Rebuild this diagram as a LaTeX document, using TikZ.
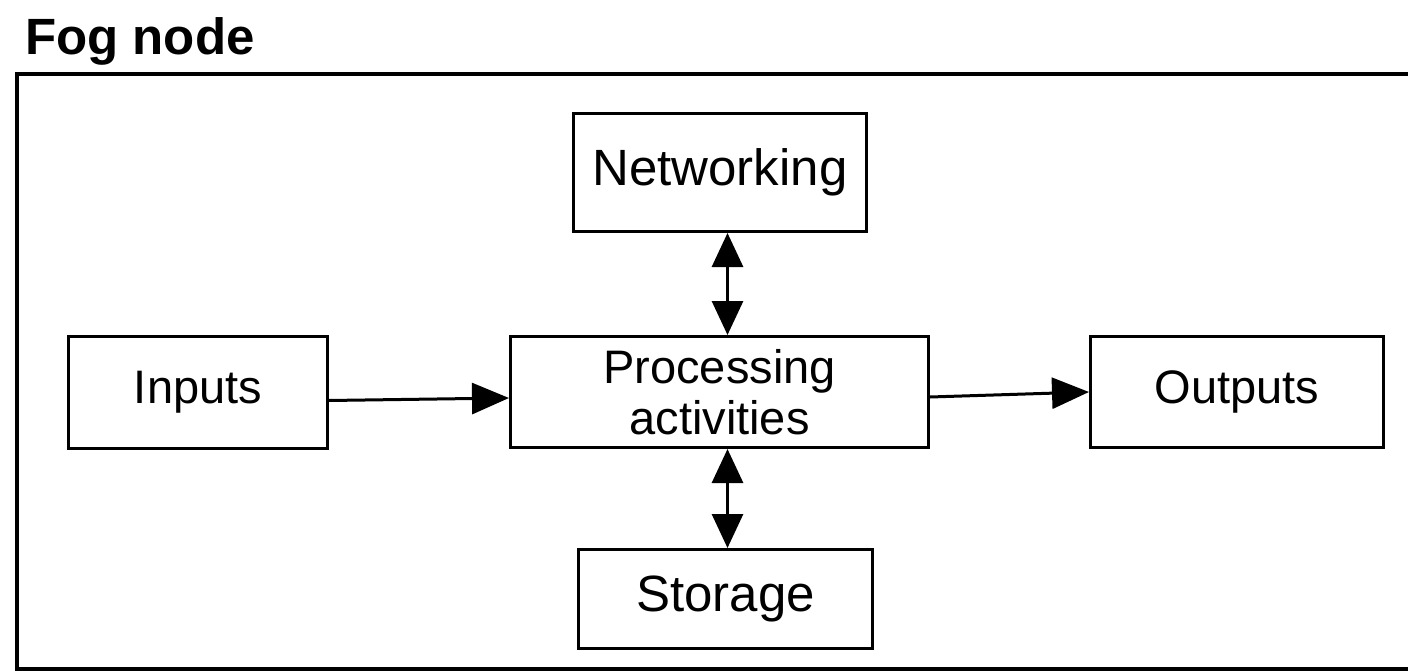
\documentclass[tikz,border=0pt]{standalone}
\usepackage{fontspec}
\setmainfont{Liberation Sans}
\usetikzlibrary{arrows.meta}
\begin{document}
\begin{tikzpicture}[x=1pt,y=-1pt,
 box/.style={draw, line width=3pt, inner sep=0pt, anchor=north west, align=center, font=\fontsize{47}{51}\selectfont},
 conn/.style={line width=3pt, -{Triangle[length=37pt,width=31pt]}},
 biconn/.style={line width=3pt, {Triangle[length=34pt,width=31pt]}-{Triangle[length=34pt,width=31pt]}}]
\useasboundingbox (0,0) rectangle (1408,671);
\clip (0,0) rectangle (1408,671);
\node[anchor=base west, font=\bfseries\fontsize{51}{54}\selectfont, inner sep=0pt] (title) at (25,55) {Fog node};
\draw[line width=4pt] (17,74) rectangle (1450,669);
\node[box, minimum width=293pt, minimum height=118pt, font=\fontsize{51}{55}\selectfont] (net) at (572,112) {Networking};
\node[box, minimum width=259pt, minimum height=112pt] (inp) at (67,335) {Inputs};
\node[box, minimum width=418pt, minimum height=111pt] (proc) at (509,335) {Processing\\activities};
\node[box, minimum width=293pt, minimum height=111pt] (out) at (1089,335) {Outputs};
\node[box, minimum width=294pt, minimum height=99pt, font=\fontsize{51}{55}\selectfont] (sto) at (577,548) {Storage};
\draw[conn] ([yshift=-8pt]inp.east) -- ([yshift=-6pt]proc.west);
\draw[conn] ([yshift=-5pt]proc.east) -- (out.west);
\draw[biconn] ([xshift=7.5pt]net.south) -- ([xshift=8pt]proc.north);
\draw[biconn] ([xshift=8pt]proc.south) -- ([xshift=2pt]sto.north);
\end{tikzpicture}
\end{document}
